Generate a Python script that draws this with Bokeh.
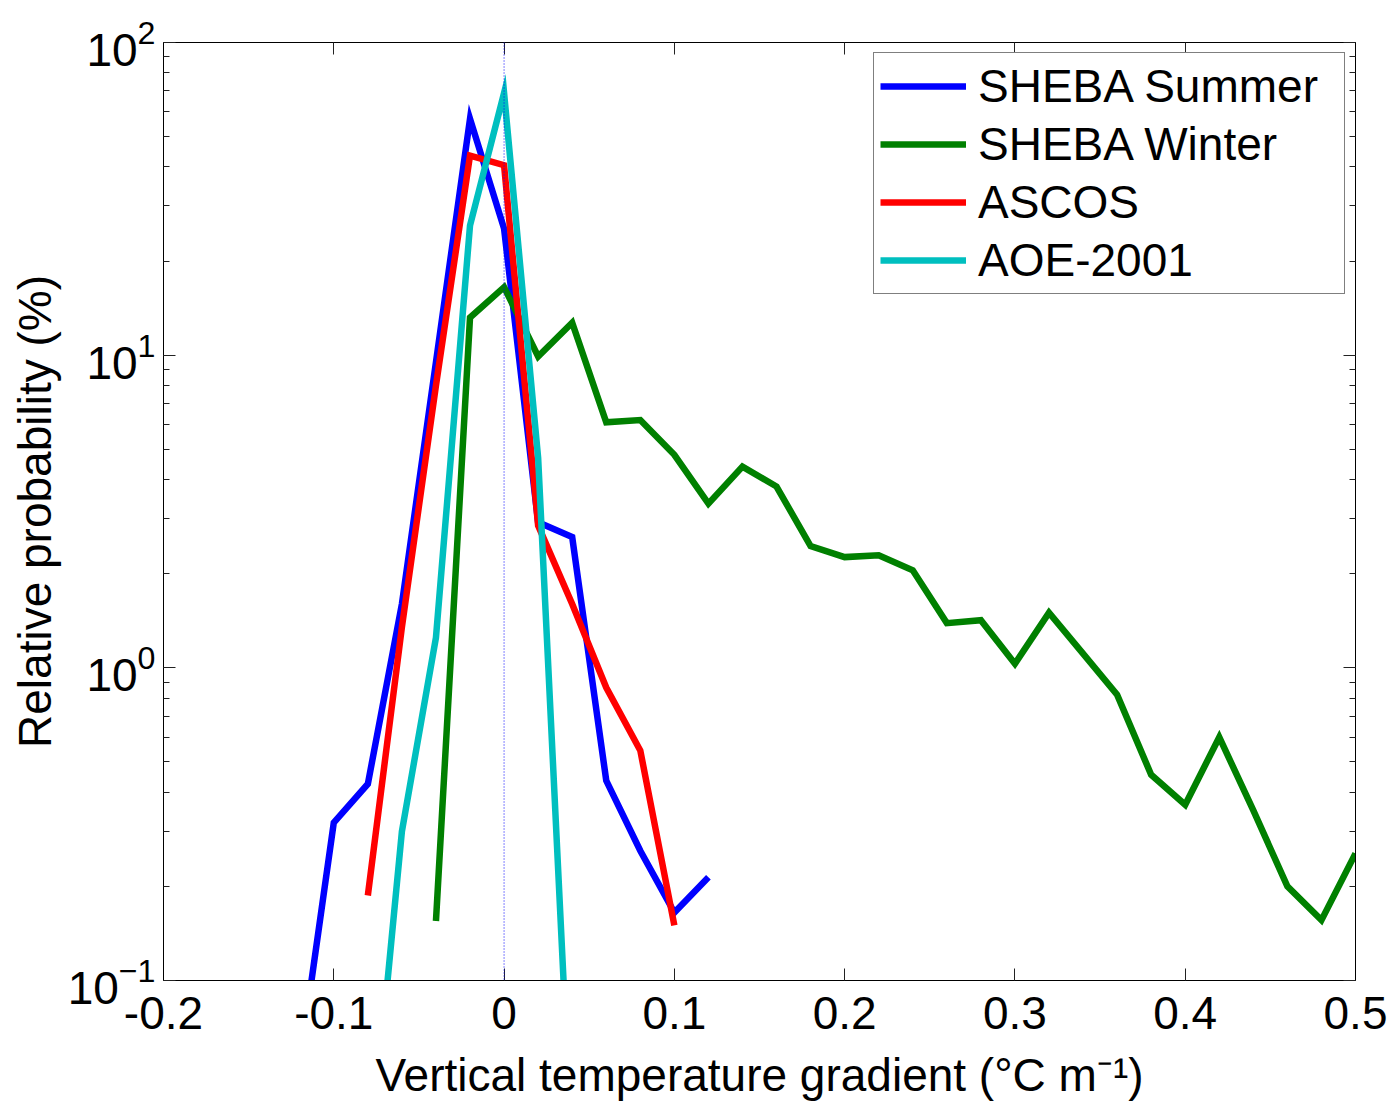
from bokeh.plotting import figure
from bokeh.models import (Span, LinearAxis, LogAxis, FixedTicker, LogTicker,
                          CustomJSTickFormatter, Range1d)
from bokeh.embed import file_html
from bokeh.resources import INLINE

# ---------------- data ----------------
summer_x = [-0.12, -0.10, -0.08, -0.06, -0.04, -0.02, 0.00, 0.02, 0.04, 0.06, 0.08, 0.10, 0.12]
summer_y = [0.054, 0.32, 0.425, 1.6, 9.5, 57.0, 25.4, 2.92, 2.62, 0.436, 0.26, 0.165, 0.214]

winter_x = [-0.04, -0.02, 0.00, 0.02, 0.04, 0.06, 0.08, 0.10, 0.12, 0.14, 0.16, 0.18, 0.20, 0.22,
            0.24, 0.26, 0.28, 0.30, 0.32, 0.34, 0.36, 0.38, 0.40, 0.42, 0.44, 0.46, 0.48, 0.50]
winter_y = [0.155, 13.2, 16.5, 9.9, 12.7, 6.1, 6.2, 4.8, 3.35, 4.4, 3.8, 2.45, 2.26, 2.29,
            2.05, 1.39, 1.42, 1.03, 1.50, 1.11, 0.82, 0.455, 0.365, 0.60, 0.35, 0.20, 0.156, 0.255]

ascos_x = [-0.08, -0.06, -0.04, -0.02, 0.00, 0.02, 0.04, 0.06, 0.08, 0.10]
ascos_y = [0.187, 1.35, 8.0, 43.5, 40.5, 2.85, 1.6, 0.865, 0.544, 0.15]

aoe_x = [-0.08, -0.06, -0.04, -0.02, 0.00, 0.02, 0.04]
aoe_y = [0.022, 0.30, 1.25, 26.0, 69.0, 4.7, 0.027]

series_names = ["SHEBA Summer", "SHEBA Winter", "ASCOS", "AOE-2001"]
series_colors = ["#0000FF", "#008000", "#FF0000", "#00BFBF"]

x_ticks = [-0.2, -0.1, 0.0, 0.1, 0.2, 0.3, 0.4, 0.5]
x_tick_labels = ["-0.2", "-0.1", "0", "0.1", "0.2", "0.3", "0.4", "0.5"]

x_label = "Vertical temperature gradient (°C m⁻¹)"
y_label = "Relative probability (%)"

FONT = "Liberation Sans"
FS = "46px"

# ---------------- figure ----------------
p = figure(frame_width=1192, frame_height=938,
           x_range=Range1d(-0.2, 0.5), y_range=Range1d(0.1, 100),
           y_axis_type="log", output_backend="svg", toolbar_location=None,
           min_border_left=163, min_border_right=36, min_border_top=42, min_border_bottom=125,
           background_fill_color="white", border_fill_color="white")
p.outline_line_color = "black"
p.outline_line_width = 1
p.grid.visible = False

zero_line = Span(location=0, dimension="height", line_color="#0000FF",
                 line_width=1, line_dash="1 2")
p.add_layout(zero_line)

all_x = [summer_x, winter_x, ascos_x, aoe_x]
all_y = [summer_y, winter_y, ascos_y, aoe_y]
for xs, ys, name, col in zip(all_x, all_y, series_names, series_colors):
    p.line(xs, ys, line_color=col, line_width=6.5, line_join="miter",
           legend_label=name)

# bottom axis
xa = p.xaxis[0]
xa.ticker = FixedTicker(ticks=x_ticks)
xa.major_label_overrides = {t: l for t, l in zip(x_ticks, x_tick_labels)}
xa.axis_label = x_label

# left axis
ya = p.yaxis[0]
ya.ticker = LogTicker(num_minor_ticks=10)
ya.axis_label = y_label

for ax in (xa, ya):
    ax.axis_line_color = "black"
    ax.major_tick_in = 12
    ax.major_tick_out = 0
    ax.minor_tick_in = 6
    ax.minor_tick_out = 0
    ax.major_tick_line_color = "#222222"
    ax.minor_tick_line_color = "#222222"
    ax.major_label_text_font = FONT
    ax.major_label_text_font_size = FS
    ax.major_label_text_color = "black"
    ax.axis_label_text_font = FONT
    ax.axis_label_text_font_size = FS
    ax.axis_label_text_font_style = "normal"
    ax.axis_label_text_color = "black"

xa.major_label_standoff = 16
xa.axis_label_standoff = 17
ya.major_label_standoff = 8
ya.axis_label_standoff = 4

empty = CustomJSTickFormatter(code="return ''")
top = LinearAxis(ticker=FixedTicker(ticks=x_ticks), formatter=empty,
                 major_tick_in=12, major_tick_out=0, minor_tick_in=0, minor_tick_out=0,
                 axis_line_color="black", major_tick_line_color="#222222",
                 major_label_text_font_size="1px", major_label_standoff=0)
p.add_layout(top, "above")
right = LogAxis(ticker=LogTicker(num_minor_ticks=10), formatter=empty,
                major_tick_in=12, major_tick_out=0, minor_tick_in=6, minor_tick_out=0,
                axis_line_color="black", major_tick_line_color="#222222",
                minor_tick_line_color="#222222",
                major_label_text_font_size="1px", major_label_standoff=0)
p.add_layout(right, "right")

# legend
lg = p.legend[0]
lg.location = (710, 686)
lg.border_line_color = "black"
lg.border_line_width = 1
lg.background_fill_color = "white"
lg.background_fill_alpha = 1
lg.label_text_font = FONT
lg.label_text_font_size = FS
lg.label_text_color = "black"
lg.glyph_width = 86
lg.glyph_height = 40
lg.label_height = 40
lg.label_width = 360
lg.spacing = 4
lg.padding = 6
lg.margin = 0
lg.label_standoff = 12

open("out.html", "w").write(file_html(p, INLINE))
